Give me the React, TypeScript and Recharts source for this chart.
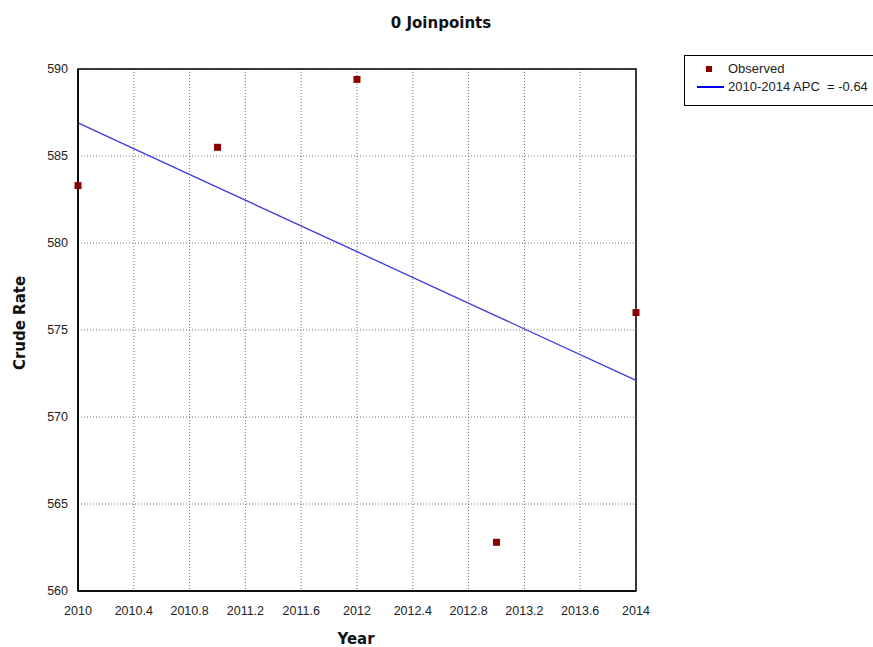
import React from "react";
import {
  ComposedChart,
  Scatter,
  Line,
  XAxis,
  YAxis,
  CartesianGrid,
  ReferenceArea,
} from "recharts";

const years = [2010, 2011, 2012, 2013, 2014];
const observed = [583.3, 585.5, 589.4, 562.8, 576.0];
const fitted = [586.9, 583.2, 579.5, 575.8, 572.1];
const xTicks = [2010, 2010.4, 2010.8, 2011.2, 2011.6, 2012, 2012.4, 2012.8, 2013.2, 2013.6, 2014];
const yTicks = [560, 565, 570, 575, 580, 585, 590];
const title = "0 Joinpoints";
const observedLabel = "Observed";
const fitLabel = "2010-2014 APC  = -0.64";

const obsData = years.map((y, i) => ({ year: y, rate: observed[i] }));
const fitData = years.map((y, i) => ({ year: y, fit: fitted[i] }));

const tickFont = { fontFamily: "Liberation Sans, Arial, sans-serif", fontSize: 12.5, fill: "#222" };

const SquareShape = (props: any) => {
  const { cx, cy } = props;
  if (cx == null || cy == null) return null;
  return <rect x={cx - 3.5} y={cy - 3.5} width={7} height={7} fill="#8b0000" />;
};

const LegendBox = () => (
  <div
    style={{
      position: "absolute",
      left: 684,
      top: 55,
      width: 189,
      height: 51,
      border: "1px solid #000",
      borderRight: "none",
      boxSizing: "border-box",
      background: "#fff",
      fontFamily: "Liberation Sans, Arial, sans-serif",
      fontSize: 13,
      color: "#222",
    }}
  >
    <svg width={40} height={48} style={{ position: "absolute", left: 0, top: 0 }}>
      <rect x={21} y={10} width={6} height={6} fill="#8b0000" />
      <line x1={12} y1={31} x2={39} y2={31} stroke="#0000ee" strokeWidth={2} />
    </svg>
    <div style={{ position: "absolute", left: 43, top: 5, whiteSpace: "pre" }}>{observedLabel}</div>
    <div style={{ position: "absolute", left: 43, top: 23, whiteSpace: "pre" }}>{fitLabel}</div>
  </div>
);

export default function App() {
  return (
    <div style={{ position: "absolute", left: 0, top: 0, width: 873, height: 647, background: "#fff" }}>
      <ComposedChart
        width={873}
        height={647}
        margin={{ top: 69, right: 237, bottom: 26, left: 38 }}
      >
        <CartesianGrid stroke="#777" strokeDasharray="1 2" />
        <XAxis
          dataKey="year"
          type="number"
          domain={[2010, 2014]}
          ticks={xTicks}
          tickLine={false}
          axisLine={{ stroke: "#000", strokeWidth: 1.5 }}
          tick={tickFont}
          tickFormatter={(v: number) => String(Math.round(v * 10) / 10)}
          height={30}
          tickMargin={9}
        />
        <YAxis
          type="number"
          domain={[560, 590]}
          ticks={yTicks}
          tickLine={false}
          axisLine={{ stroke: "#000", strokeWidth: 1.5 }}
          tick={tickFont}
          width={40}
          tickMargin={4}
        />
        <ReferenceArea
          x1={2010}
          x2={2014}
          y1={560}
          y2={590}
          fill="none"
          stroke="#000"
          strokeWidth={1.5}
          fillOpacity={0}
        />
        <Line
          data={fitData}
          dataKey="fit"
          type="linear"
          stroke="#3b3be0"
          strokeWidth={1.3}
          dot={false}
          isAnimationActive={false}
          legendType="none"
        />
        <Scatter
          data={obsData}
          dataKey="rate"
          shape={<SquareShape />}
          isAnimationActive={false}
          legendType="none"
        />
        <text
          x={441}
          y={28}
          textAnchor="middle"
          fontFamily="DejaVu Sans, Verdana, sans-serif"
          fontWeight="bold"
          fontSize={15}
          fill="#111"
        >
          {title}
        </text>
        <text
          x={356}
          y={644}
          textAnchor="middle"
          fontFamily="DejaVu Sans, Verdana, sans-serif"
          fontWeight="bold"
          fontSize={15}
          fill="#111"
        >
          Year
        </text>
        <text
          x={25}
          y={323}
          textAnchor="middle"
          transform="rotate(-90 25 323)"
          fontFamily="DejaVu Sans, Verdana, sans-serif"
          fontWeight="bold"
          fontSize={15}
          fill="#111"
        >
          Crude Rate
        </text>
      </ComposedChart>
      <LegendBox />
    </div>
  );
}
